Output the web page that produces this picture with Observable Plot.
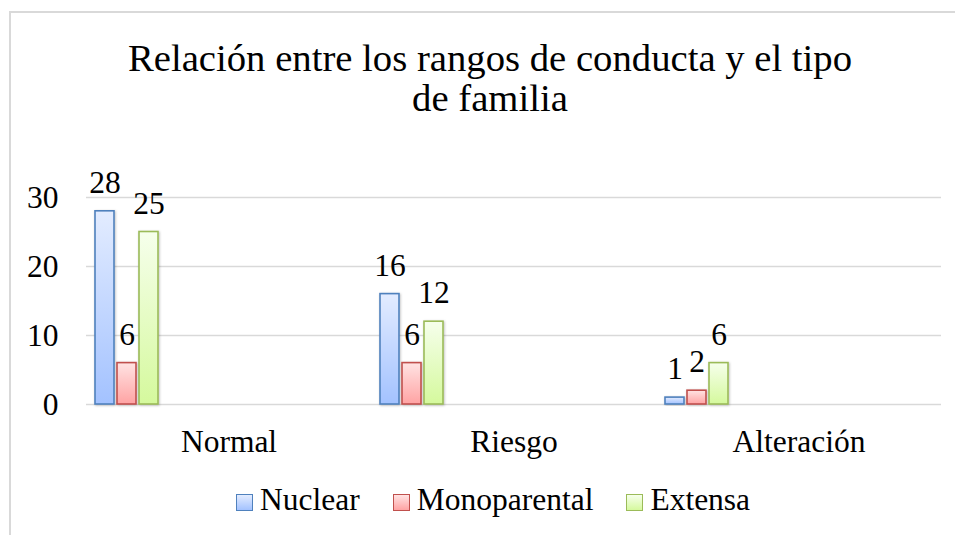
<!DOCTYPE html>
<html>
<head>
<meta charset="utf-8">
<script src="https://cdn.jsdelivr.net/npm/d3@7"></script>
<script src="https://cdn.jsdelivr.net/npm/@observablehq/plot@0.6"></script>
<style>
  body { margin: 0; background: #fff; }
  #wrap { position: relative; width: 955px; height: 535px; overflow: hidden; background: #fff;
          font-family: "Liberation Serif", "Times New Roman", "DejaVu Serif", serif; color: #000; }
  #frame { position: absolute; left: 9px; top: 11px; width: 1000px; height: 1000px;
           border-left: 2px solid #d9d9d9; border-top: 2px solid #d9d9d9; }
  #title { position: absolute; left: 0; top: 38px; width: 980px; text-align: center;
           font-size: 38.7px; line-height: 40px; font-family: "Liberation Serif", "Times New Roman", serif; }
  #chart { position: absolute; left: 0; top: 0; }
  #legend { position: absolute; left: 236px; top: 484px; display: flex; align-items: flex-end;
            font-size: 31.5px; line-height: 32px; white-space: nowrap; font-family: "Liberation Serif", "Times New Roman", serif; }
  .item { display: flex; align-items: flex-end; margin-right: 33px; }
  .sw { width: 15px; height: 15px; margin-right: 7px; margin-bottom: 5px; box-sizing: content-box; }
</style>
</head>
<body>
<div id="wrap">
  <div id="frame"></div>
  <div id="chart"></div>
  <div id="title">Relación entre los rangos de conducta y el tipo<br>de familia</div>
  <div id="legend"></div>
</div>
<script>
// ---- data ----
const categories = ["Normal", "Riesgo", "Alteración"];
const series = ["Nuclear", "Monoparental", "Extensa"];
const nuclear = [28, 16, 1];
const monoparental = [6, 6, 2];
const extensa = [25, 12, 6];
const yTicks = [0, 10, 20, 30];

// ---- styles ----
const strokes = ["#4f81bd", "#c0504d", "#9bbb59"];
const gradTop = ["#e3ecff", "#ffe3e3", "#f6ffec"];
const gradBottom = ["#a3c2ff", "#ffa3a3", "#d5f99d"];

const valuesBySeries = [nuclear, monoparental, extensa];
const data = [];
categories.forEach((c, i) => {
  series.forEach((s, j) => data.push({ cat: c, s, v: valuesBySeries[j][i] }));
});

const font = "Liberation Serif, Times New Roman, serif";
const mL = 86;

const plot = Plot.plot({
  width: 955,
  height: 535,
  marginLeft: mL,
  marginRight: 14,
  marginTop: 197,
  marginBottom: 131,
  style: { fontFamily: font, fontSize: "31.5px", color: "#000", background: "transparent", overflow: "visible" },
  fx: { domain: categories, padding: 0, label: null, axis: null },
  x: { domain: series, range: [mL + 8.5, mL + 73], paddingInner: 0.13, paddingOuter: 0, axis: null },
  y: { domain: [0, 30], label: null, axis: null },
  marks: [
    Plot.ruleY(yTicks, { stroke: "#d9d9d9", strokeWidth: 1.5 }),
    Plot.axisY(yTicks, { tickSize: 0, tickPadding: 28, fontSize: 31.5, label: null, fill: "#000" }),
    Plot.axisFx({ anchor: "bottom", tickSize: 0, tickPadding: 25.6, fontSize: 31.5, label: null, fill: "#000" }),
    ...series.map((s, j) =>
      Plot.barY(data.filter(d => d.s === s), {
        fx: "cat", x: "s", y: "v",
        fill: `url(#grad${j})`, stroke: strokes[j], strokeWidth: 1.6
      })
    ),
    Plot.text(data, { fx: "cat", x: "s", y: "v", text: d => String(d.v), dy: -28.5, fontSize: 31.5, fill: "#000" })
  ]
});

// gradient defs
const svg = d3.select(plot);
const defs = svg.insert("defs", ":first-child");
series.forEach((s, j) => {
  const g = defs.append("linearGradient").attr("id", `grad${j}`)
    .attr("x1", 0).attr("y1", 0).attr("x2", 0).attr("y2", 1);
  g.append("stop").attr("offset", "0%").attr("stop-color", gradTop[j]);
  g.append("stop").attr("offset", "100%").attr("stop-color", gradBottom[j]);
});
const f = defs.append("filter").attr("id", "shadow").attr("x", "-20%").attr("y", "-20%").attr("width", "140%").attr("height", "140%");
f.append("feDropShadow").attr("dx", 0.8).attr("dy", 0.8).attr("stdDeviation", 1).attr("flood-color", "#000").attr("flood-opacity", 0.25);
svg.selectAll("rect").filter(function() { return (this.getAttribute("fill") || "").startsWith("url") || (this.parentNode.getAttribute("fill") || "").startsWith("url"); })
  .attr("filter", "url(#shadow)");

document.getElementById("chart").appendChild(plot);

// legend
const legend = d3.select("#legend");
series.forEach((s, j) => {
  const it = legend.append("div").attr("class", "item");
  it.append("div").attr("class", "sw")
    .style("border", `1.6px solid ${strokes[j]}`)
    .style("background", `linear-gradient(${gradTop[j]}, ${gradBottom[j]})`);
  it.append("span").text(s);
});
</script>
</body>
</html>
